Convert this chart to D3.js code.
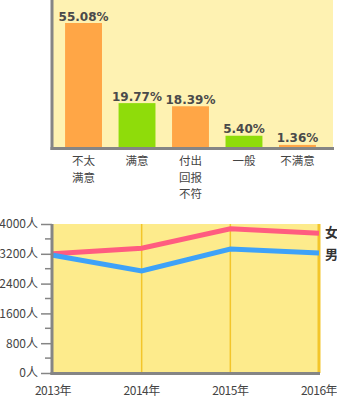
<!DOCTYPE html>
<html><head><meta charset="utf-8">
<script src="https://cdn.jsdelivr.net/npm/d3@7"></script>
<style>body{margin:0;background:#fff;}svg{display:block;font-family:"Noto Sans CJK SC","Noto Sans",sans-serif;}</style>
</head><body>
<script>
const barCategories = [["不太","满意"],["满意"],["付出","回报","不符"],["一般"],["不满意"]];
const barValues = [55.08, 19.77, 18.39, 5.40, 1.36];
const barLabels = ["55.08%","19.77%","18.39%","5.40%","1.36%"];
const barColors = ["#ffa646","#8fdc0a","#ffa646","#8fdc0a","#ffa646"];

const years = ["2013年","2014年","2015年","2016年"];
const female = [3200, 3350, 3870, 3750];
const male = [3160, 2740, 3330, 3220];
const yTicks = [0, 800, 1600, 2400, 3200, 4000];
const yMinor = [400, 1200, 2000, 2800, 3600];

const W = 337, H = 398;
const svg = d3.select("body").append("svg").attr("width", W).attr("height", H);

// ---------- top bar chart ----------
const tL = 53, tR = 333, tT = 0, tB = 148;
svg.append("rect").attr("x", tL).attr("y", tT).attr("width", tR - tL).attr("height", tB - tT).attr("fill", "#fef2b2");
const xb = d3.scaleBand().domain(d3.range(barValues.length)).range([48.5, 332.5]).paddingInner(0.31).paddingOuter(0.31);
const yb = d3.scaleLinear().domain([0, 55.08]).range([tB, 23]);
const bg = svg.append("g");
bg.selectAll("rect.bar").data(barValues).join("rect").attr("class","bar")
  .attr("x", (d,i) => xb(i)).attr("width", xb.bandwidth())
  .attr("y", d => yb(d)).attr("height", d => tB - yb(d))
  .attr("fill", (d,i) => barColors[i]);
bg.selectAll("text.val").data(barValues).join("text").attr("class","val")
  .attr("x", (d,i) => xb(i) + xb.bandwidth()/2).attr("y", d => yb(d) - 2.5)
  .attr("text-anchor","middle").attr("font-size", 12).attr("font-weight","bold")
  .attr("fill","#4a4a4a").attr("font-family","'DejaVu Sans',sans-serif")
  .text((d,i) => barLabels[i]);
// axes
svg.append("line").attr("x1", 52).attr("x2", 52).attr("y1", 0).attr("y2", tB + 2).attr("stroke","#858585").attr("stroke-width",3);
svg.append("line").attr("x1", 50.5).attr("x2", tR + 1).attr("y1", tB + 0.5).attr("y2", tB + 0.5).attr("stroke","#858585").attr("stroke-width",3);
// category labels (one text per line)
const catLines = [];
barCategories.forEach((d,i) => d.forEach((s,j) => catLines.push({i, j, s})));
bg.selectAll("text.cat").data(catLines).join("text").attr("class","cat")
  .attr("x", d => xb(d.i) + xb.bandwidth()/2).attr("y", d => 165 + d.j * 16.7)
  .attr("text-anchor","middle").attr("font-size", 11.5).attr("fill","#444")
  .text(d => d.s);

// ---------- bottom line chart ----------
const lL = 53, lR = 319, lT = 224, lB = 373;
svg.append("rect").attr("x", lL).attr("y", lT).attr("width", lR - lL).attr("height", lB - lT).attr("fill", "#fdeb8c");
const xl = d3.scalePoint().domain(years).range([lL, lR]);
const yl = d3.scaleLinear().domain([0, 4000]).range([lB, lT]);
// vertical grid
svg.selectAll("line.vg").data(years.slice(1)).join("line").attr("class","vg")
  .attr("x1", d => xl(d)).attr("x2", d => xl(d)).attr("y1", lT).attr("y2", lB)
  .attr("stroke", "#f3c52a").attr("stroke-width", (d,i) => i === 2 ? 3 : 1.5);
// lines
const line = d3.line().x((d,i) => xl(years[i])).y(d => yl(d));
svg.append("path").datum(female).attr("d", line).attr("fill","none").attr("stroke","#ff5c80").attr("stroke-width",5);
svg.append("path").datum(male).attr("d", line).attr("fill","none").attr("stroke","#3ea2f8").attr("stroke-width",5);
// y axis
const yAxis = d3.axisLeft(yl).tickValues(yTicks).tickSize(11).tickFormat(d => d + "人");
const ga = svg.append("g").attr("transform", `translate(${lL - 1},0)`).call(yAxis);
ga.select(".domain").remove();
ga.selectAll(".tick line").attr("stroke","#858585").attr("stroke-width",1.5);
ga.selectAll(".tick text").attr("font-size",12).attr("fill","#444").attr("x",-14).attr("font-family","'Noto Sans CJK SC',sans-serif");
svg.selectAll("line.minor").data(yMinor).join("line").attr("class","minor")
  .attr("x1", lL - 8).attr("x2", lL).attr("y1", d => yl(d)).attr("y2", d => yl(d))
  .attr("stroke","#858585").attr("stroke-width",1.5);
svg.append("line").attr("x1", 52).attr("x2", 52).attr("y1", lT).attr("y2", lB + 2).attr("stroke","#858585").attr("stroke-width",3);
svg.append("line").attr("x1", 50.5).attr("x2", lR + 1).attr("y1", lB + 0.5).attr("y2", lB + 0.5).attr("stroke","#858585").attr("stroke-width",3);
// x labels
svg.selectAll("text.yr").data(years).join("text").attr("class","yr")
  .attr("x", d => xl(d)).attr("y", 395).attr("text-anchor","middle")
  .attr("font-size",12).attr("fill","#444").attr("letter-spacing",-0.5).text(d => d);
// series labels
svg.append("text").attr("x", 325).attr("y", yl(female[3]) + 4).attr("font-size",13).attr("font-weight","bold").attr("fill","#333").text("女");
svg.append("text").attr("x", 325).attr("y", yl(male[3]) + 6).attr("font-size",13).attr("font-weight","bold").attr("fill","#333").text("男");
</script>
</body></html>
